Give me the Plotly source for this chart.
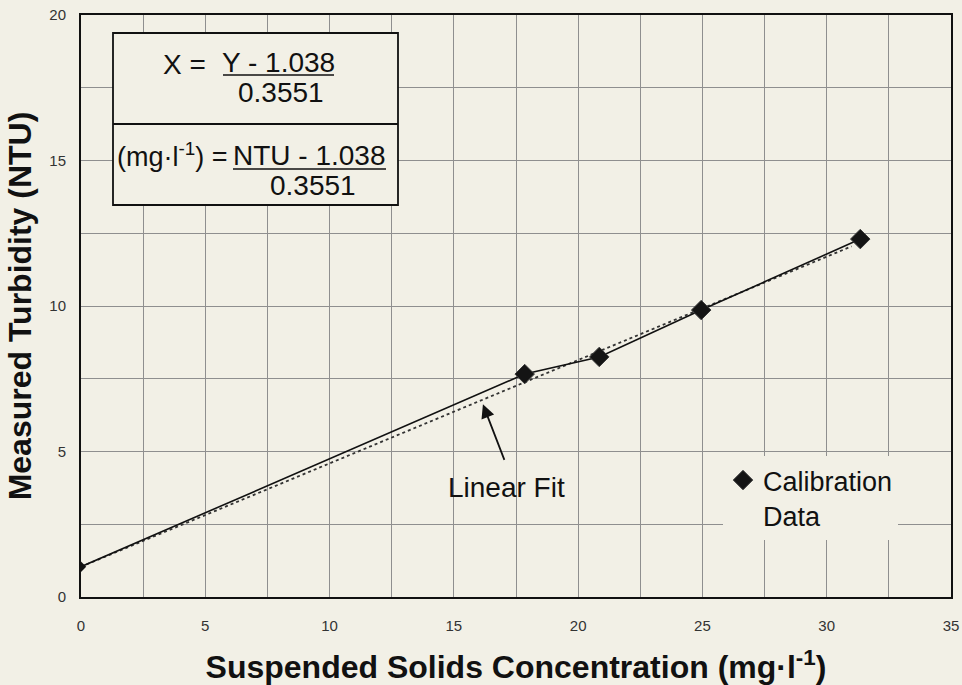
import plotly.graph_objects as go

# Data
conc = [0, 17.85, 20.85, 24.95, 31.35]          # mg/l
ntu = [1.04, 7.66, 8.25, 9.86, 12.3]            # NTU
fit_x = [0, 31.0]
fit_y = [1.04, 12.05]
x_ticks = [0, 5, 10, 15, 20, 25, 30, 35]
y_ticks = [0, 5, 10, 15, 20]

BG = "#f2f0e6"
FONT = "Liberation Sans, Arial, sans-serif"
GRID = "#8f8f8f"

# plot area in pixels
L, R, T, B = 81, 951, 15, 597
W, H = 962, 685


def px(xp):
    return (xp - L) / (R - L)


def py(yp):
    return (B - yp) / (B - T)


fig = go.Figure()

fig.add_trace(go.Scatter(x=fit_x, y=fit_y, mode="lines",
                         line=dict(color="#333", width=1.8, dash="dot"),
                         showlegend=False, hoverinfo="skip"))
fig.add_trace(go.Scatter(x=conc, y=ntu, mode="lines",
                         line=dict(color="#111", width=1.6),
                         showlegend=False))
fig.add_trace(go.Scatter(x=conc[:1], y=ntu[:1], mode="markers",
                         marker=dict(symbol="diamond", size=8, color="#111", opacity=1),
                         showlegend=False))
fig.add_trace(go.Scatter(x=conc[1:], y=ntu[1:], mode="markers", name="Calibration<br>Data",
                         marker=dict(symbol="diamond", size=15, color="#141414", opacity=1,
                                     line=dict(color="#3a3a3a", width=1)),
                         showlegend=True))

shapes = [
    dict(type="rect", xref="paper", yref="paper", x0=px(113), x1=px(398), y0=py(205), y1=py(33),
         fillcolor=BG, line=dict(color="#111", width=1.8), layer="above"),
    dict(type="line", xref="paper", yref="paper", x0=px(113), x1=px(398), y0=py(124), y1=py(124),
         line=dict(color="#111", width=1.8), layer="above"),
    dict(type="line", xref="paper", yref="paper", x0=px(223), x1=px(334), y0=py(75), y1=py(75),
         line=dict(color="#111", width=1.5), layer="above"),
    dict(type="line", xref="paper", yref="paper", x0=px(233), x1=px(386), y0=py(169), y1=py(169),
         line=dict(color="#111", width=1.5), layer="above"),
]

eq_font = dict(family=FONT, size=28, color="#111")
ann = [
    dict(text="X =", x=px(208), y=py(64), xanchor="right", yanchor="middle"),
    dict(text="Y - 1.038", x=px(278), y=py(62), xanchor="center", yanchor="middle"),
    dict(text="0.3551", x=px(281), y=py(93), xanchor="center", yanchor="middle"),
    dict(text="(mg·l<sup>-1</sup>) =", x=px(230), y=py(155), xanchor="right", yanchor="middle",
         font=dict(family=FONT, size=27, color="#111")),
    dict(text="NTU - 1.038", x=px(309), y=py(155), xanchor="center", yanchor="middle"),
    dict(text="0.3551", x=px(313), y=py(186), xanchor="center", yanchor="middle"),
]
annotations = [dict(dict(xref="paper", yref="paper", showarrow=False, font=eq_font), **a) for a in ann]
annotations.append(dict(text="Linear Fit", xref="paper", yref="paper", x=px(506), y=py(487),
                        xanchor="center", yanchor="middle", showarrow=False,
                        font=dict(family=FONT, size=28, color="#111")))
annotations.append(dict(text="", xref="x", yref="y", x=16.17, y=6.62, ax=22, ay=57,
                        showarrow=True, arrowhead=2, arrowsize=1.5, arrowwidth=1.8,
                        arrowcolor="#111"))

fig.update_layout(
    width=W, height=H,
    paper_bgcolor=BG, plot_bgcolor=BG,
    margin=dict(l=L, r=W - R, t=T, b=H - B, autoexpand=False),
    shapes=shapes,
    annotations=annotations,
    legend=dict(x=px(723), y=py(456), xanchor="left", yanchor="top",
                bgcolor=BG, borderwidth=0, valign="top",
                font=dict(family=FONT, size=27, color="#111"),
                itemsizing="trace"),
    xaxis=dict(range=[0, 35], tickvals=x_ticks, ticktext=[str(v) for v in x_ticks],
               showgrid=True, gridcolor=GRID, gridwidth=1,
               minor=dict(dtick=2.5, showgrid=True, gridcolor=GRID, gridwidth=1),
               zeroline=False, showline=True, linecolor="#111", linewidth=2, mirror=True,
               ticks="", ticklabelstandoff=14,
               tickfont=dict(family=FONT, size=15, color="#333"),
               title=dict(text="<b>Suspended Solids Concentration (mg·l<sup>-1</sup>)</b>",
                          font=dict(family=FONT, size=32, color="#111"), standoff=23)),
    yaxis=dict(range=[0, 20], tickvals=y_ticks, ticktext=[str(v) for v in y_ticks],
               showgrid=True, gridcolor=GRID, gridwidth=1,
               minor=dict(dtick=2.5, showgrid=True, gridcolor=GRID, gridwidth=1),
               zeroline=False, showline=True, linecolor="#111", linewidth=2, mirror=True,
               ticks="", ticklabelstandoff=10,
               tickfont=dict(family=FONT, size=15, color="#333"),
               title=dict(text="<b>Measured Turbidity (NTU)</b>",
                          font=dict(family=FONT, size=32, color="#111"), standoff=8)),
)

fig.write_html("out.html")
